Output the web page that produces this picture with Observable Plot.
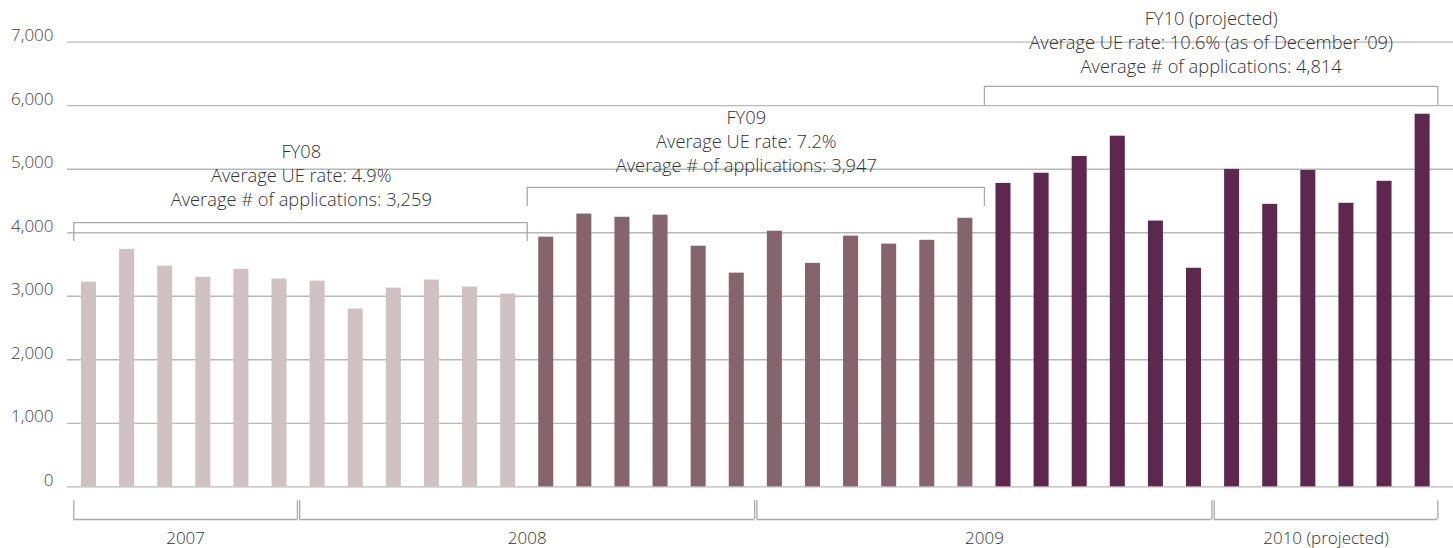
<!DOCTYPE html>
<html>
<head>
<meta charset="utf-8">
<script src="https://cdn.jsdelivr.net/npm/d3@7"></script>
<script src="https://cdn.jsdelivr.net/npm/@observablehq/plot@0.6"></script>
<style>
  html, body { margin: 0; padding: 0; background: #ffffff; }
  #chart svg { display: block; }
</style>
</head>
<body>
<div id="chart"></div>
<script>
// ---- Data ----
const months = [
  "Jul 2007","Aug 2007","Sep 2007","Oct 2007","Nov 2007","Dec 2007",
  "Jan 2008","Feb 2008","Mar 2008","Apr 2008","May 2008","Jun 2008",
  "Jul 2008","Aug 2008","Sep 2008","Oct 2008","Nov 2008","Dec 2008",
  "Jan 2009","Feb 2009","Mar 2009","Apr 2009","May 2009","Jun 2009",
  "Jul 2009","Aug 2009","Sep 2009","Oct 2009","Nov 2009","Dec 2009",
  "Jan 2010","Feb 2010","Mar 2010","Apr 2010","May 2010","Jun 2010"
];
const fy08Applications = [3222, 3738, 3474, 3299, 3425, 3271, 3238, 2798, 3128, 3255, 3145, 3035];
const fy09Applications = [3931, 4294, 4244, 4277, 3788, 3364, 4024, 3518, 3947, 3821, 3881, 4228];
const fy10Applications = [4777, 4937, 5201, 5520, 4184, 3441, 4997, 4447, 4981, 4464, 4810, 5866];

const fiscalYears = ["FY08", "FY09", "FY10"];
const fiscalTitles = ["FY08", "FY09", "FY10 (projected)"];
const ueRates = ["4.9%", "7.2%", "10.6% (as of December \u201909)"];
const avgApplications = ["3,259", "3,947", "4,814"];

const calendarYears = ["2007", "2008", "2009", "2010 (projected)"];
const calendarMonthCounts = [6, 12, 12, 6];

const yTicks = [0, 1000, 2000, 3000, 4000, 5000, 6000, 7000];

// ---- Build table ----
const series = [fy08Applications, fy09Applications, fy10Applications];
const rows = [];
series.forEach((vals, f) => vals.forEach(v => {
  rows.push({i: rows.length, month: months[rows.length], fy: fiscalYears[f], value: v});
}));
const n = rows.length;

// ---- Style / layout constants ----
const fyColors = ["#d0c2c2", "#86646e", "#5e284e"];
const gridColor = "#b8b8b8";
const bracketColor = "#a9a9a9";
const textColor = "#333333";
const tickColor = "#45413c";
const half = 0.197;            // half bar width (index units)
const PX = 7000 / 444.6;        // y value per pixel
const edge = 0.4;               // outer inset of brackets

// fiscal-year brackets
const fyBrackets = fiscalYears.map((fy, f) => {
  const start = f * 12, end = start + 12;
  return {
    fy,
    x1: f === 0 ? -edge : start - 0.5,
    x2: f === fiscalYears.length - 1 ? n - 1 + edge : end - 0.5,
    level: [4160, 4713, 6303][f],
    shift: [0.02, -0.25, 0][f],
    textGap: [22, 21, 19][f],
    lines: [fiscalTitles[f], "Average UE rate: " + ueRates[f], "Average # of applications: " + avgApplications[f]]
  };
});
fyBrackets.forEach(b => { b.cx = (b.x1 + b.x2) / 2 + b.shift; });

// calendar-year brackets
const yrBrackets = [];
{
  let s = 0;
  calendarYears.forEach((y, k) => {
    const e = s + calendarMonthCounts[k];
    yrBrackets.push({
      year: y,
      x1: k === 0 ? -edge : s - 0.5 + 0.03,
      x2: k === calendarYears.length - 1 ? n - 1 + edge : e - 0.5 - 0.03
    });
    s = e;
  });
}
yrBrackets.forEach(b => { b.cx = (b.x1 + b.x2) / 2; });

const yrTop = -14 * PX, yrBottom = -32.7 * PX;
const tickLen = 19 * PX;

const fyVerticals = fyBrackets.flatMap(b => [{x: b.x1, y1: b.level, y2: b.level - tickLen}, {x: b.x2, y1: b.level, y2: b.level - tickLen}]);
const yrVerticals = yrBrackets.flatMap(b => [{x: b.x1}, {x: b.x2}]);

const fyTextLines = fyBrackets.flatMap(b => b.lines.map((t, k) => ({
  text: t, x: b.cx, y: b.level + (b.textGap + 24 * (2 - k)) * PX
})));

const chart = Plot.plot({
  width: 1453,
  height: 548,
  marginLeft: 67,
  marginRight: 0,
  marginTop: 41.7,
  marginBottom: 61.7,
  style: {fontFamily: "'Open Sans', sans-serif", fontSize: "17px", background: "#ffffff"},
  x: {type: "linear", domain: [-0.5643, 35.81], axis: null},
  y: {domain: [0, 7000], axis: null},
  color: {domain: fiscalYears, range: fyColors},
  marks: [
    Plot.ruleY(yTicks, {stroke: gridColor, strokeWidth: 1.3}),
    Plot.text(yTicks, {
      x: -0.5643, y: d => d, text: d => d3.format(",")(d),
      textAnchor: "end", dx: -14, dy: -6.5, fill: tickColor,
      fontSize: 17, fontWeight: 300
    }),
    Plot.rectY(rows, {x1: d => d.i - half, x2: d => d.i + half, y1: 0, y2: "value", fill: "fy"}),
    // fiscal-year brackets
    Plot.ruleY(fyBrackets, {x1: "x1", x2: "x2", y: "level", stroke: bracketColor, strokeWidth: 1.3}),
    Plot.ruleX(fyVerticals, {x: "x", y1: "y1", y2: "y2", stroke: bracketColor, strokeWidth: 1.3}),
    Plot.text(fyTextLines, {x: "x", y: "y", text: "text", fill: textColor, fontSize: 18.3, fontWeight: 300}),
    // calendar-year brackets
    Plot.ruleY(yrBrackets, {x1: "x1", x2: "x2", y: yrBottom, stroke: bracketColor, strokeWidth: 1.3}),
    Plot.ruleX(yrVerticals, {x: "x", y1: yrTop, y2: yrBottom, stroke: bracketColor, strokeWidth: 1.3}),
    Plot.text(yrBrackets, {x: "cx", y: 0, dy: 52, text: "year", fill: textColor, fontSize: 17, fontWeight: 300})
  ]
});

document.getElementById("chart").appendChild(chart);
</script>
</body>
</html>
